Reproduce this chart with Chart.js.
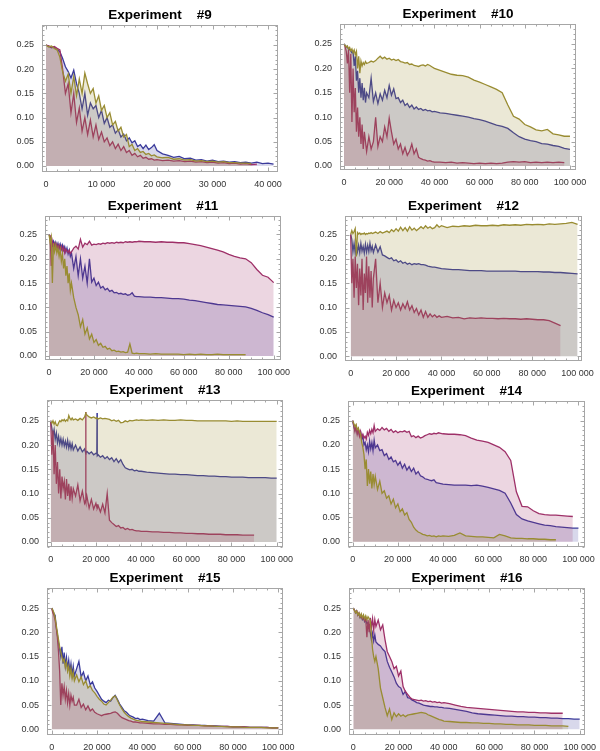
<!DOCTYPE html>
<html>
<head>
<meta charset="utf-8">
<script src="https://cdn.jsdelivr.net/npm/chart.js@4.4.1/dist/chart.umd.min.js"></script>
<style>
  html, body { margin: 0; padding: 0; background: #fff; overflow: hidden; }
  #page { position: relative; width: 600px; height: 751px; }
  #page canvas { position: absolute; }
</style>
</head>
<body>
<div id="page"></div>
<script>
// x grids, in thousands of steps
const x40k = [0,0.5,1,1.5,2,2.5,3,3.5,4,4.5,5,5.5,6,6.5,7,7.5,8,8.5,9,9.5,10,10.5,11,11.5,12,12.5,13,13.5,14,14.5,15,15.5,16,16.5,17,17.5,18,18.5,19,19.5,20,
  21,22,23,24,25,26,27,28,29,30,31,32,33,34,35,36,37,38,39,40,41];
const x100k = [0,0.5,1,1.5,2,2.5,3,3.5,4,4.5,5,5.5,6,6.5,7,7.5,8,8.5,9,9.5,10,
  11,12,13,14,15,16,17,18,19,20,21,22,23,24,25,26,27,28,29,30,31,32,33,34,35,36,37,38,39,40,
  42.5,45,47.5,50,52.5,55,57.5,60,62.5,65,67.5,70,72.5,75,77.5,80,82.5,85,87.5,90,92.5,95,97.5,100];
const x13k = [0,0.5,1,1.5,2,2.5,3,3.5,4,4.5,5,5.5,6,6.5,7,7.5,8,8.5,9,9.5,10,
  11,12,13,14,15,15.4,15.5,15.6,16,17,18,19,20,20.4,20.5,20.6,
  21,22,23,24,25,26,27,28,29,30,31,32,33,34,35,36,37,38,39,40,
  42.5,45,47.5,50,52.5,55,57.5,60,62.5,65,67.5,70,72.5,75,77.5,80,82.5,85,87.5,90,92.5,95,97.5,100];

// tick labels
const xTicks40 = [0, 10000, 20000, 30000, 40000];
const xTicks100 = [0, 20000, 40000, 60000, 80000, 100000];
const yTicks = [0, 0.05, 0.10, 0.15, 0.20, 0.25];

// Experiment #9
const e9Magenta = [0.250,0.248,0.245,0.247,0.243,0.240,0.200,0.150,0.170,0.110,
  0.150,0.090,0.120,0.072,0.100,0.065,0.095,0.060,0.085,0.055,
  0.070,0.050,0.058,0.042,0.050,0.036,0.045,0.032,0.040,0.028,
  0.032,0.022,0.026,0.019,0.022,0.016,0.018,0.014,0.015,0.012,0.013,
  0.011,0.012,0.010,0.011,0.009,0.010,0.008,0.009,0.007,0.008,
  0.006,0.007,0.005,0.006,0.004,0.005,0.003,0.004];
const e9Blue = [0.250,0.247,0.244,0.246,0.240,0.236,0.222,0.205,0.195,0.182,
  0.198,0.170,0.150,0.118,0.150,0.105,0.130,0.118,0.125,0.100,
  0.115,0.088,0.100,0.080,0.085,0.068,0.075,0.060,0.066,0.052,
  0.058,0.048,0.052,0.040,0.044,0.036,0.043,0.034,0.038,0.044,0.032,
  0.025,0.022,0.018,0.020,0.015,0.016,0.012,0.013,0.010,0.012,
  0.009,0.010,0.008,0.009,0.007,0.008,0.006,0.008,0.005,0.006,0.004];
const e9Olive = [0.250,0.246,0.248,0.243,0.240,0.225,0.195,0.175,0.190,0.150,
  0.185,0.145,0.180,0.150,0.192,0.170,0.150,0.160,0.130,0.145,
  0.115,0.125,0.100,0.110,0.085,0.092,0.072,0.080,0.060,0.065,
  0.040,0.045,0.032,0.036,0.028,0.030,0.024,0.026,0.021,0.023,0.019,
  0.017,0.018,0.014,0.015,0.012,0.013,0.010,0.011,0.009,0.010,
  0.008,0.009,0.007,0.007,0.006,0.006,0.005];

// Experiment #10
const e10Olive = [0.250,0.247,0.244,0.246,0.240,0.243,0.236,0.240,0.232,0.238,0.228,0.235,0.200,0.225,0.190,0.215,0.205,0.212,0.208,0.214,0.210,
  0.212,0.215,0.213,0.216,0.221,0.225,0.220,0.223,0.219,0.221,0.217,0.219,0.216,0.218,0.214,
  0.213,0.211,0.212,0.208,0.209,0.206,0.205,0.204,0.206,0.207,0.205,0.208,0.206,0.203,0.200,
  0.196,0.192,0.188,0.186,0.185,0.182,0.176,0.172,0.167,0.162,0.157,0.150,0.125,0.102,0.096,
  0.085,0.080,0.074,0.072,0.075,0.066,0.064,0.061,0.061];
const e10Blue = [0.250,0.247,0.245,0.243,0.240,0.238,0.236,0.232,0.234,0.205,0.225,0.175,0.195,0.150,0.180,0.140,0.170,0.135,0.160,0.130,0.150,
  0.140,0.180,0.132,0.150,0.128,0.148,0.135,0.155,0.140,0.165,0.145,0.158,0.138,0.140,0.130,
  0.135,0.124,0.128,0.120,0.125,0.117,0.121,0.116,0.118,0.114,0.116,0.113,0.114,0.111,0.112,
  0.109,0.108,0.106,0.104,0.102,0.100,0.097,0.095,0.092,0.088,0.084,0.081,0.077,0.068,0.060,
  0.055,0.052,0.050,0.046,0.045,0.042,0.040,0.036,0.034];
const e10Magenta = [0.250,0.245,0.235,0.210,0.240,0.150,0.230,0.090,0.200,0.110,0.160,0.070,0.120,0.060,0.100,0.045,0.085,0.035,0.070,0.050,0.030,
  0.060,0.035,0.050,0.100,0.040,0.060,0.050,0.080,0.060,0.098,0.070,0.045,0.055,0.035,0.045,
  0.025,0.038,0.022,0.030,0.045,0.025,0.035,0.018,0.015,0.013,0.012,0.010,0.011,0.009,0.008,
  0.008,0.007,0.008,0.006,0.007,0.006,0.005,0.006,0.005,0.006,0.005,0.006,0.008,0.009,0.008,
  0.009,0.007,0.008,0.007,0.008,0.007,0.008,0.007];

// Experiment #11
const e11Magenta = [0.250,0.248,0.185,0.236,0.225,0.232,0.222,0.230,0.220,0.228,0.218,0.226,0.215,0.224,0.212,0.220,0.216,0.213,0.218,0.211,0.214,
  0.222,0.226,0.220,0.240,0.224,0.232,0.229,0.236,0.228,0.230,0.229,0.231,0.230,0.232,0.231,
  0.233,0.232,0.233,0.232,0.234,0.233,0.234,0.233,0.235,0.234,0.235,0.234,0.235,0.235,0.236,
  0.235,0.235,0.234,0.235,0.234,0.234,0.233,0.233,0.231,0.229,0.227,0.224,0.221,0.218,0.214,
  0.209,0.205,0.202,0.200,0.192,0.178,0.166,0.162,0.151];
const e11Blue = [0.250,0.245,0.238,0.230,0.236,0.226,0.234,0.224,0.232,0.222,0.230,0.220,0.228,0.218,0.225,0.214,0.222,0.210,0.218,0.205,0.212,
  0.180,0.205,0.165,0.200,0.160,0.185,0.150,0.200,0.152,0.160,0.145,0.152,0.140,0.143,0.136,
  0.139,0.133,0.135,0.130,0.131,0.128,0.129,0.127,0.128,0.125,0.126,0.130,0.123,0.122,0.122,
  0.121,0.121,0.120,0.120,0.119,0.118,0.118,0.117,0.115,0.114,0.112,0.110,0.108,0.106,0.105,
  0.104,0.103,0.102,0.101,0.098,0.094,0.089,0.085,0.080];
const e11Olive = [0.250,0.235,0.245,0.150,0.232,0.215,0.228,0.212,0.222,0.205,0.218,0.195,0.210,0.180,0.200,0.165,0.185,0.150,0.170,0.135,0.150,
  0.120,0.100,0.085,0.060,0.075,0.045,0.058,0.035,0.045,0.028,0.034,0.022,0.026,0.018,0.020,
  0.014,0.016,0.011,0.012,0.009,0.010,0.008,0.009,0.007,0.008,0.025,0.006,0.005,0.006,0.005,
  0.005,0.004,0.005,0.004,0.004,0.004,0.004,0.003,0.004,0.003,0.004,0.003,0.003,0.004,0.003,
  0.003,0.003,0.003,0.003];

// Experiment #12
const e12Olive = [0.250,0.258,0.252,0.256,0.262,0.205,0.254,0.251,0.253,0.250,0.252,0.251,0.253,0.250,0.252,0.251,0.253,0.252,0.254,0.252,0.253,
  0.255,0.252,0.256,0.253,0.255,0.257,0.254,0.260,0.256,0.262,0.257,0.265,0.258,0.264,0.257,
  0.266,0.259,0.263,0.258,0.262,0.266,0.262,0.268,0.263,0.266,0.262,0.264,0.270,0.265,0.268,
  0.264,0.267,0.266,0.268,0.267,0.269,0.268,0.268,0.269,0.268,0.270,0.269,0.270,0.269,0.271,
  0.270,0.271,0.270,0.272,0.271,0.272,0.273,0.275,0.271];
const e12Blue = [0.250,0.240,0.215,0.232,0.212,0.230,0.215,0.228,0.213,0.232,0.216,0.226,0.212,0.230,0.214,0.228,0.215,0.232,0.217,0.226,0.213,
  0.229,0.214,0.225,0.208,0.206,0.203,0.200,0.202,0.196,0.198,0.193,0.196,0.191,0.193,0.189,
  0.191,0.188,0.190,0.189,0.190,0.188,0.188,0.187,0.185,0.184,0.183,0.183,0.182,0.181,0.180,
  0.179,0.178,0.178,0.177,0.176,0.176,0.176,0.175,0.175,0.175,0.175,0.175,0.175,0.174,0.174,
  0.174,0.174,0.173,0.173,0.172,0.172,0.171,0.170,0.169];
const e12Magenta = [0.250,0.150,0.200,0.120,0.205,0.140,0.190,0.105,0.180,0.125,0.200,0.095,0.170,0.130,0.205,0.110,0.185,0.120,0.175,0.100,0.160,
  0.200,0.110,0.150,0.100,0.130,0.110,0.125,0.095,0.115,0.100,0.110,0.095,0.108,0.098,0.112,
  0.095,0.104,0.090,0.098,0.085,0.095,0.080,0.092,0.080,0.087,0.081,0.085,0.080,0.083,0.080,
  0.082,0.079,0.080,0.077,0.079,0.078,0.079,0.078,0.078,0.077,0.078,0.077,0.077,0.076,0.077,
  0.076,0.075,0.075,0.073,0.068,0.063];

// Experiment #13 (own grid, for the two thin spikes)
const e13Olive = [0.250,0.245,0.250,0.243,0.248,0.241,0.240,0.246,0.250,0.248,0.252,0.250,0.253,0.249,0.252,0.250,0.261,0.255,0.252,0.256,0.252,
  0.254,0.251,0.255,0.252,0.258, 0.264,0.268,0.265, 0.262,0.258,0.256,0.258,0.255, 0.256,0.255,0.256,
  0.254,0.256,0.254,0.255,0.254,0.253,0.250,0.252,0.249,0.251,0.246,0.247,0.250,0.248,0.251,0.250,0.251,0.252,0.251,0.252,
  0.251,0.252,0.251,0.252,0.251,0.251,0.252,0.251,0.251,0.250,0.250,0.250,0.250,0.250,0.250,
  0.249,0.250,0.249,0.249,0.249,0.249,0.249,0.249,0.249];
const e13Blue = [0.250,0.235,0.220,0.232,0.212,0.225,0.205,0.218,0.202,0.214,0.200,0.212,0.198,0.208,0.196,0.210,0.194,0.205,0.192,0.203,0.190,
  0.200,0.188,0.196,0.186,0.192, 0.185,0.188,0.184, 0.187,0.182,0.186,0.180,0.183, 0.182,0.266,0.178,
  0.180,0.175,0.178,0.172,0.176,0.170,0.174,0.166,0.172,0.164,0.170,0.160,0.153,0.151,0.149,0.150,0.147,0.148,0.146,0.146,
  0.144,0.143,0.142,0.141,0.140,0.140,0.139,0.139,0.138,0.137,0.137,0.136,0.136,0.135,0.135,
  0.134,0.134,0.134,0.133,0.133,0.133,0.133,0.132,0.132];
const e13Magenta = [0.250,0.180,0.230,0.140,0.200,0.120,0.165,0.100,0.150,0.090,0.135,0.110,0.125,0.088,0.130,0.095,0.120,0.085,0.115,0.090,0.110,
  0.095,0.118,0.085,0.105,0.080, 0.085,0.268,0.082, 0.095,0.070,0.088,0.068,0.080, 0.072,0.078,0.070,
  0.075,0.062,0.078,0.060,0.100,0.045,0.040,0.036,0.032,0.034,0.029,0.030,0.026,0.028,0.025,0.026,0.024,0.023,0.023,0.022,
  0.022,0.021,0.021,0.020,0.020,0.019,0.019,0.018,0.018,0.017,0.017,0.016,0.016,0.016,0.015,
  0.015,0.015,0.014,0.014,0.014];

// Experiment #14
const e14Magenta = [0.250,0.240,0.228,0.238,0.222,0.232,0.218,0.228,0.216,0.222,0.214,0.218,0.212,0.226,0.220,0.230,0.223,0.232,0.225,0.240,0.228,
  0.233,0.230,0.236,0.231,0.234,0.228,0.232,0.226,0.229,0.225,0.228,0.227,0.229,0.226,0.228,
  0.217,0.219,0.215,0.218,0.214,0.216,0.219,0.221,0.223,0.222,0.224,0.223,0.225,0.224,0.223,
  0.222,0.222,0.221,0.219,0.214,0.210,0.208,0.205,0.200,0.195,0.186,0.168,0.103,0.073,0.072,
  0.064,0.058,0.056,0.055,0.055,0.054,0.053,0.052];
const e14Blue = [0.250,0.238,0.230,0.236,0.224,0.230,0.220,0.226,0.212,0.218,0.200,0.205,0.190,0.200,0.186,0.208,0.192,0.205,0.188,0.210,0.194,
  0.200,0.188,0.190,0.178,0.182,0.170,0.175,0.165,0.168,0.158,0.165,0.152,0.160,0.148,0.155,
  0.145,0.152,0.140,0.145,0.136,0.134,0.130,0.129,0.127,0.126,0.128,0.122,0.121,0.120,0.119,
  0.118,0.117,0.117,0.117,0.116,0.117,0.115,0.112,0.109,0.106,0.100,0.080,0.056,0.047,0.043,
  0.040,0.037,0.034,0.033,0.031,0.030,0.029,0.028,0.028];
const e14Olive = [0.250,0.244,0.238,0.242,0.232,0.235,0.228,0.222,0.205,0.195,0.180,0.150,0.170,0.115,0.150,0.120,0.145,0.110,0.140,0.118,0.135,
  0.108,0.125,0.100,0.105,0.090,0.095,0.078,0.088,0.070,0.078,0.062,0.068,0.055,0.060,0.046,
  0.040,0.030,0.024,0.020,0.018,0.015,0.014,0.012,0.013,0.011,0.012,0.010,0.012,0.011,0.012,
  0.011,0.013,0.018,0.012,0.011,0.010,0.010,0.009,0.008,0.015,0.012,0.008,0.007,0.007,0.006,
  0.006,0.005,0.005,0.004,0.004];

// Experiment #15
const e15Blue = [0.250,0.244,0.238,0.235,0.210,0.195,0.178,0.165,0.150,0.170,0.135,0.158,0.130,0.148,0.125,0.142,0.118,0.135,0.112,0.130,0.110,
  0.125,0.140,0.108,0.118,0.100,0.110,0.092,0.098,0.085,0.078,0.070,0.062,0.058,0.055,0.060,
  0.058,0.065,0.070,0.062,0.052,0.045,0.038,0.035,0.030,0.027,0.025,0.022,0.023,0.020,0.021,
  0.018,0.017,0.033,0.013,0.012,0.011,0.010,0.009,0.009,0.008,0.008,0.007,0.007,0.006,0.006,
  0.005,0.005,0.005,0.004,0.004,0.004,0.004,0.003,0.003];
const e15Olive = [0.250,0.246,0.240,0.230,0.215,0.200,0.185,0.170,0.160,0.150,0.140,0.145,0.128,0.138,0.120,0.130,0.110,0.125,0.105,0.118,0.100,
  0.112,0.098,0.108,0.092,0.100,0.085,0.090,0.080,0.075,0.068,0.062,0.058,0.052,0.050,0.055,
  0.060,0.066,0.069,0.060,0.050,0.042,0.035,0.030,0.026,0.023,0.021,0.019,0.018,0.017,0.016,
  0.015,0.014,0.013,0.012,0.011,0.010,0.009,0.009,0.008,0.008,0.007,0.007,0.006,0.006,0.005,
  0.005,0.005,0.004,0.004,0.004,0.004,0.003,0.003,0.003];
const e15Magenta = [0.250,0.240,0.235,0.225,0.210,0.190,0.160,0.120,0.050,0.095,0.070,0.088,0.062,0.080,0.055,0.074,0.050,0.070,0.058,0.066,0.050,
  0.050,0.062,0.045,0.052,0.040,0.048,0.038,0.042,0.035,0.032,0.030,0.028,0.030,0.031,0.032,
  0.033,0.035,0.036,0.033,0.028,0.024,0.022,0.020,0.018,0.017,0.015,0.015,0.014,0.013,0.013,
  0.012,0.011,0.011,0.010,0.010,0.009,0.009,0.008,0.008,0.008,0.007,0.007,0.006,0.006,0.006,
  0.005,0.005,0.005,0.004,0.004,0.004,0.004,0.003,0.003];

// Experiment #16
const e16Olive = [0.250,0.245,0.240,0.244,0.236,0.240,0.232,0.238,0.230,0.236,0.228,0.234,0.226,0.232,0.228,0.225,0.195,0.165,0.150,0.140,0.150,
  0.125,0.085,0.065,0.045,0.028,0.042,0.020,0.034,0.026,0.032,0.027,0.030,0.026,0.029,0.030,
  0.031,0.032,0.033,0.034,0.035,0.034,0.033,0.030,0.028,0.026,0.024,0.022,0.020,0.019,0.017,
  0.016,0.015,0.014,0.014,0.013,0.013,0.012,0.012,0.011,0.011,0.010,0.010,0.009,0.009,0.009,
  0.008,0.008,0.008,0.007,0.007,0.007,0.006];
const e16Blue = [0.250,0.246,0.240,0.244,0.235,0.238,0.230,0.234,0.226,0.230,0.222,0.226,0.218,0.220,0.210,0.200,0.185,0.198,0.182,0.195,0.180,
  0.175,0.172,0.165,0.160,0.140,0.128,0.118,0.108,0.095,0.088,0.085,0.072,0.078,0.065,0.064,
  0.060,0.058,0.055,0.054,0.052,0.050,0.049,0.048,0.047,0.047,0.046,0.046,0.045,0.045,0.044,
  0.043,0.041,0.039,0.037,0.034,0.032,0.031,0.030,0.029,0.028,0.027,0.027,0.026,0.026,0.025,
  0.025,0.024,0.024,0.023,0.023,0.022,0.022,0.021,0.021];
const e16Magenta = [0.250,0.246,0.242,0.244,0.236,0.240,0.232,0.236,0.228,0.232,0.224,0.228,0.190,0.226,0.200,0.230,0.210,0.228,0.205,0.226,0.212,
  0.225,0.205,0.215,0.185,0.160,0.150,0.140,0.125,0.130,0.110,0.120,0.088,0.078,0.072,0.066,
  0.062,0.061,0.060,0.059,0.060,0.058,0.059,0.057,0.058,0.056,0.057,0.055,0.056,0.054,0.055,
  0.053,0.050,0.047,0.045,0.044,0.043,0.042,0.041,0.040,0.039,0.038,0.037,0.036,0.036,0.035,
  0.035,0.034,0.034,0.033,0.033,0.033];

// Mathematica-like default colours
const colors = {
  blue: [58, 58, 155],
  magenta: [158, 48, 104],
  olive: [153, 140, 50],
};

// frame: [left, top, right, bottom] of the plot box on the page
const panels = [
  {title: "Experiment    #9",  frame: [42, 25, 278, 172],  x: [-720, 41800],   y: [-0.0124, 0.2913], xTicks: xTicks40,  minor: 2000, major: 10000, grid: x40k,
   series: [["olive", e9Olive], ["magenta", e9Magenta], ["blue", e9Blue]]},
  {title: "Experiment    #10", frame: [340, 24, 576, 170], x: [-1780, 102670], y: [-0.0082, 0.291],  xTicks: xTicks100, minor: 5000, major: 20000, grid: x100k,
   series: [["olive", e10Olive], ["magenta", e10Magenta], ["blue", e10Blue]]},
  {title: "Experiment    #11", frame: [45, 216, 281, 360], x: [-1780, 103250], y: [-0.0082, 0.288],  xTicks: xTicks100, minor: 5000, major: 20000, grid: x100k,
   series: [["olive", e11Olive], ["magenta", e11Magenta], ["blue", e11Blue]]},
  {title: "Experiment    #12", frame: [345, 216, 582, 361], x: [-2500, 101950], y: [-0.0097, 0.288], xTicks: xTicks100, minor: 5000, major: 20000, grid: x100k,
   series: [["olive", e12Olive], ["magenta", e12Magenta], ["blue", e12Blue]]},
  {title: "Experiment    #13", frame: [47, 400, 283, 547], x: [-1640, 102790], y: [-0.0103, 0.293],  xTicks: xTicks100, minor: 5000, major: 20000, grid: x13k,
   series: [["olive", e13Olive], ["magenta", e13Magenta], ["blue", e13Blue]]},
  {title: "Experiment    #14", frame: [348, 401, 585, 547], x: [-2080, 102900], y: [-0.011, 0.2907], xTicks: xTicks100, minor: 5000, major: 20000, grid: x100k,
   series: [["olive", e14Olive], ["magenta", e14Magenta], ["blue", e14Blue]]},
  {title: "Experiment    #15", frame: [47, 588, 283, 735], x: [-2080, 102080], y: [-0.0118, 0.2913], xTicks: xTicks100, minor: 5000, major: 20000, grid: x100k,
   series: [["olive", e15Olive], ["magenta", e15Magenta], ["blue", e15Blue]]},
  {title: "Experiment    #16", frame: [349, 588, 585, 735], x: [-1900, 102340], y: [-0.0118, 0.2913], xTicks: xTicks100, minor: 5000, major: 20000, grid: x100k,
   series: [["olive", e16Olive], ["magenta", e16Magenta], ["blue", e16Blue]]},
];

const AXIS_W = 40, TITLE_H = 25, XAXIS_H = 20, RIGHT_PAD = 30;

Chart.defaults.font.family = "'Liberation Sans', Arial, sans-serif";

function spaced(v) {
  return String(v).replace(/\B(?=(\d{3})+(?!\d))/g, " ");
}

function rgba(c, a) {
  return "rgba(" + c[0] + "," + c[1] + "," + c[2] + "," + a + ")";
}

// frame with inward ticks on all four sides
const frameTicks = {
  id: "frameTicks",
  afterDraw(chart, args, opts) {
    const {ctx, chartArea: a, scales: {x, y}} = chart;
    const L = Math.round(a.left) + 0.5, R = Math.round(a.right) - 0.5;
    const T = Math.round(a.top) + 0.5, B = Math.round(a.bottom) - 0.5;
    ctx.save();
    ctx.strokeStyle = "#a6a6a6";
    ctx.lineWidth = 1;
    ctx.strokeRect(L, T, R - L, B - T);
    ctx.beginPath();
    for (let k = Math.ceil(x.min / opts.minor); k * opts.minor <= x.max; k++) {
      const v = k * opts.minor;
      const px = Math.round(x.getPixelForValue(v)) + 0.5;
      const len = v % opts.major === 0 ? 4 : 2;
      ctx.moveTo(px, B); ctx.lineTo(px, B - len);
      ctx.moveTo(px, T); ctx.lineTo(px, T + len);
    }
    for (let k = Math.ceil(y.min * 100); k <= Math.floor(y.max * 100); k++) {
      const py = Math.round(y.getPixelForValue(k / 100)) + 0.5;
      const len = k % 5 === 0 ? 4 : 2;
      ctx.moveTo(L, py); ctx.lineTo(L + len, py);
      ctx.moveTo(R, py); ctx.lineTo(R - len, py);
    }
    ctx.stroke();
    ctx.restore();
  }
};

const page = document.getElementById("page");

for (const p of panels) {
  const [fl, ft, fr, fb] = p.frame;
  const w = fr - fl, h = fb - ft;
  const canvas = document.createElement("canvas");
  canvas.width = AXIS_W + w + RIGHT_PAD;
  canvas.height = TITLE_H + h + XAXIS_H;
  canvas.style.left = (fl - AXIS_W) + "px";
  canvas.style.top = (ft - TITLE_H) + "px";
  page.appendChild(canvas);

  const datasets = p.series.map(([name, values]) => ({
    data: values.map((v, i) => ({x: p.grid[i] * 1000, y: v})),
    borderColor: rgba(colors[name], 1),
    backgroundColor: rgba(colors[name], 0.2),
    borderWidth: 1.3,
    pointRadius: 0,
    tension: 0,
    fill: "origin",
  }));

  new Chart(canvas.getContext("2d"), {
    type: "line",
    data: {datasets: datasets},
    options: {
      responsive: false,
      animation: false,
      layout: {padding: {left: 0, right: RIGHT_PAD, top: 0, bottom: 0}},
      plugins: {
        legend: {display: false},
        tooltip: {enabled: false},
        title: {
          display: true,
          text: p.title,
          fullSize: false,
          color: "#000",
          font: {size: 13.5, weight: "bold", lineHeight: "16px"},
          padding: {top: 7, bottom: 2}
        },
        frameTicks: {minor: p.minor, major: p.major}
      },
      scales: {
        x: {
          type: "linear",
          min: p.x[0],
          max: p.x[1],
          grid: {display: false, drawTicks: false},
          border: {display: false},
          afterBuildTicks: (s) => { s.ticks = p.xTicks.map(v => ({value: v})); },
          afterFit: (s) => { s.height = XAXIS_H; },
          ticks: {autoSkip: false, maxRotation: 0, padding: 7, color: "#333", font: {size: 9}, callback: (v) => spaced(v)}
        },
        y: {
          min: p.y[0],
          max: p.y[1],
          grid: {display: false, drawTicks: false},
          border: {display: false},
          afterBuildTicks: (s) => { s.ticks = yTicks.map(v => ({value: v})); },
          afterFit: (s) => { s.width = AXIS_W; },
          ticks: {padding: 8, color: "#333", font: {size: 9}, callback: (v) => v.toFixed(2)}
        }
      }
    },
    plugins: [frameTicks]
  });
}
</script>
</body>
</html>
